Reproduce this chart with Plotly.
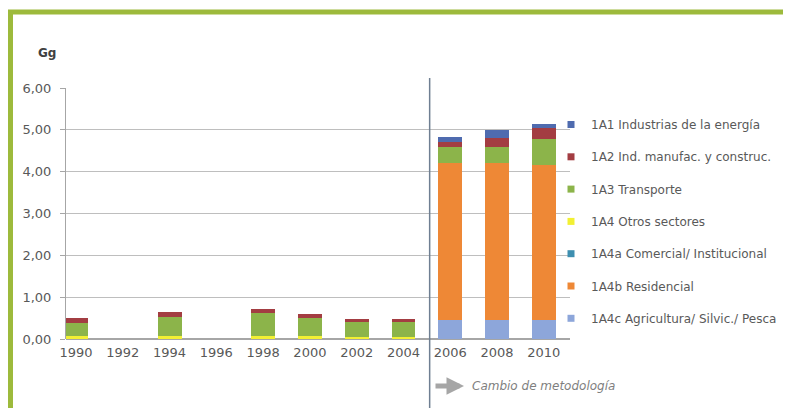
import plotly.graph_objects as go

years = ["1990", "1992", "1994", "1996", "1998", "2000", "2002", "2004", "2006", "2008", "2010"]

# stack order: bottom -> top
v_1A4c = [0, 0, 0, 0, 0, 0, 0, 0, 0.45, 0.45, 0.45]
v_1A4b = [0, 0, 0, 0, 0, 0, 0, 0, 3.75, 3.75, 3.72]
v_1A4a = [0, 0, 0, 0, 0, 0, 0, 0, 0.0, 0.0, 0.0]
v_1A4 = [0.08, 0, 0.08, 0, 0.08, 0.06, 0.05, 0.05, 0, 0, 0]
v_1A3 = [0.30, 0, 0.45, 0, 0.55, 0.44, 0.35, 0.35, 0.40, 0.40, 0.62]
v_1A2 = [0.13, 0, 0.12, 0, 0.08, 0.10, 0.08, 0.08, 0.10, 0.20, 0.26]
v_1A1 = [0, 0, 0, 0, 0, 0, 0, 0, 0.13, 0.20, 0.08]

names = [
    "1A4c Agricultura/ Silvic./ Pesca",
    "1A4b Residencial",
    "1A4a Comercial/ Institucional",
    "1A4 Otros sectores",
    "1A3 Transporte",
    "1A2 Ind. manufac. y construc.",
    "1A1 Industrias de la energía",
]
series = [v_1A4c, v_1A4b, v_1A4a, v_1A4, v_1A3, v_1A2, v_1A1]
colors = ["#8DA6DA", "#EE8836", "#3E8FB0", "#F2F033", "#8CB44A", "#A33D42", "#4F6BAF"]

y_ticks = [0, 1, 2, 3, 4, 5, 6]
y_ticktext = ["0,00", "1,00", "2,00", "3,00", "4,00", "5,00", "6,00"]

FONT = "DejaVu Sans, Liberation Sans, Arial"

fig = go.Figure()
n = len(names)
for i, (nm, vals, col) in enumerate(zip(names, series, colors)):
    fig.add_trace(go.Bar(
        x=list(range(len(years))), y=vals, name=nm,
        marker=dict(color=col, line=dict(width=0)),
        legendgroup=nm, showlegend=False,
    ))
    # small square legend key
    fig.add_trace(go.Scatter(
        x=[None], y=[None], mode="markers", name=nm,
        marker=dict(symbol="square", size=7, color=col),
        legendgroup=nm, legendrank=n - i, showlegend=True,
    ))

# page has an 8px body margin; work in reference-window pixels
OFF = 8
W, H = 791 - OFF, 408 - OFF
ML, MT, MB = 66 - OFF, 88 - OFF, 69
pw = 504
ph = H - MT - MB
MR = W - ML - pw

def px_x(px):
    return (px - OFF - ML) / pw

def px_y(py):
    return (H - MB - (py - OFF)) / ph

fig.update_layout(
    width=W, height=H,
    margin=dict(l=ML, r=MR, t=MT, b=MB, autoexpand=False),
    barmode="stack", bargap=0.49,
    paper_bgcolor="white", plot_bgcolor="white",
    font=dict(family=FONT, size=12, color="#595959"),
    showlegend=True,
    legend=dict(
        x=px_x(551), xanchor="left", y=px_y(110), yanchor="top",
        traceorder="grouped", tracegroupgap=13.3,
        font=dict(family=FONT, size=12, color="#595959"),
        bgcolor="rgba(0,0,0,0)", itemwidth=30,
    ),
    xaxis=dict(
        tickmode="array", tickvals=list(range(len(years))), ticktext=years,
        range=[-0.214, 10.56], showgrid=False, zeroline=False,
        showline=False, ticks="", ticklabelstandoff=4,
        tickfont=dict(family=FONT, size=13, color="#595959"),
    ),
    yaxis=dict(
        range=[0, 6], tickmode="array", tickvals=y_ticks, ticktext=y_ticktext,
        showgrid=True, gridcolor="#BEBEBE", gridwidth=1,
        zeroline=True, zerolinecolor="#A6A6A6",
        showline=True, linecolor="#A6A6A6", ticks="outside", ticklen=5,
        tickcolor="#A6A6A6", ticklabelstandoff=6,
        tickfont=dict(family=FONT, size=13, color="#595959"),
    ),
)

shapes = [
    # methodology change line between 2004 and 2006
    dict(type="line", xref="x", yref="paper", x0=7.56, x1=7.56,
         y0=px_y(412), y1=px_y(78), line=dict(color="#6F7F92", width=1.5)),
    # green frame
    dict(type="rect", xref="paper", yref="paper",
         x0=px_x(10.5), x1=px_x(830), y0=px_y(450), y1=px_y(12),
         line=dict(color="#9DBA3C", width=5), layer="above"),
]
fig.update_layout(shapes=shapes)

fig.add_annotation(text="<b>Gg</b>", xref="paper", yref="paper",
                   x=px_x(47), y=px_y(53), xanchor="center", yanchor="middle",
                   showarrow=False, font=dict(family=FONT, size=12, color="#404040"))
fig.add_annotation(text="", xref="paper", yref="paper",
                   x=px_x(464), y=px_y(386), ax=-30, ay=0,
                   showarrow=True, arrowhead=2, arrowsize=0.7, arrowwidth=5,
                   arrowcolor="#A6A6A6")
fig.add_annotation(text="<i>Cambio de metodología</i>", xref="paper", yref="paper",
                   x=px_x(470), y=px_y(386), xanchor="left", yanchor="middle",
                   showarrow=False, font=dict(family=FONT, size=12, color="#7F7F7F"))

fig.write_html("out.html")
